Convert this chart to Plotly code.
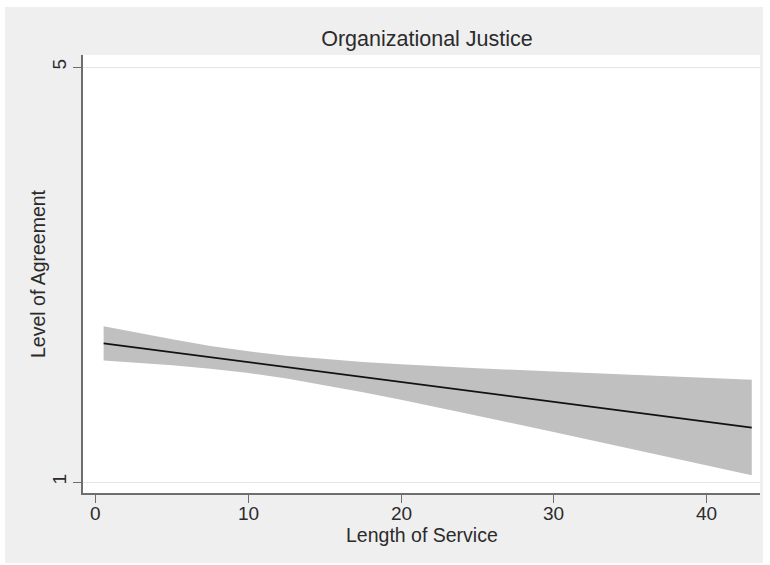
import plotly.graph_objects as go

# Fitted level of agreement by length of service, with 95% confidence band
service_years = [0.5, 2.5, 5, 7.5, 10, 12.5, 15, 17.5, 20, 22.5, 25, 30, 35, 40, 43]
fitted = [2.336, 2.298, 2.250, 2.202, 2.155, 2.107, 2.059, 2.011, 1.964, 1.916,
          1.868, 1.773, 1.677, 1.582, 1.525]
ci_upper = [2.502, 2.444, 2.375, 2.312, 2.260, 2.217, 2.184, 2.157, 2.135, 2.115,
            2.097, 2.064, 2.032, 2.002, 1.985]
ci_lower = [2.170, 2.152, 2.125, 2.092, 2.050, 1.997, 1.934, 1.865, 1.793, 1.717,
            1.639, 1.482, 1.322, 1.162, 1.065]

x_ticks = [0, 10, 20, 30, 40]
y_ticks = [1, 5]

W, H = 770, 565
L, R, T, B = 83, 10, 55, 72
pw, ph = W - L - R, H - T - B

FONT = "Liberation Sans, Arial, Helvetica, sans-serif"
TXT = "#2b2b2b"
AX = "#6e6e6e"

fig = go.Figure()

# confidence band
fig.add_trace(go.Scatter(
    x=service_years + service_years[::-1],
    y=ci_upper + ci_lower[::-1],
    fill="toself", fillcolor="#c0c0c0",
    line=dict(width=0), mode="lines", hoverinfo="skip", showlegend=False,
))
# fitted line
fig.add_trace(go.Scatter(
    x=service_years, y=fitted, mode="lines",
    line=dict(color="#111111", width=1.7), showlegend=False,
))

def px_x(p):
    return (p - L) / pw

def px_y(p):
    return (H - B - p) / ph

shapes = [
    # outer light-grey graph region
    dict(type="rect", xref="paper", yref="paper", layer="below",
         x0=px_x(5), x1=px_x(763), y0=px_y(563), y1=px_y(7),
         fillcolor="#efefef", line=dict(width=0)),
    # white plot region
    dict(type="rect", xref="paper", yref="paper", layer="below",
         x0=0, x1=px_x(760), y0=0, y1=1,
         fillcolor="#ffffff", line=dict(width=0)),
]

annotations = [
    dict(text="Length of Service", xref="paper", yref="paper",
         x=0.5, y=px_y(535), xanchor="center", yanchor="middle",
         showarrow=False, font=dict(family=FONT, size=19.5, color=TXT)),
    dict(text="Level of Agreement", xref="paper", yref="paper",
         x=px_x(38), y=px_y(274), xanchor="center", yanchor="middle",
         textangle=-90, showarrow=False, font=dict(family=FONT, size=19.5, color=TXT)),
]
# x tick labels, placed just under the tick marks
for v in x_ticks:
    annotations.append(dict(
        text=str(v), xref="x", yref="paper", x=v, y=px_y(513),
        xanchor="center", yanchor="middle", showarrow=False,
        font=dict(family=FONT, size=19, color=TXT)))

fig.update_layout(
    width=W, height=H,
    margin=dict(l=L, r=R, t=T, b=B),
    paper_bgcolor="#ffffff", plot_bgcolor="rgba(0,0,0,0)",
    title=dict(text="Organizational Justice", x=427 / W,
               xanchor="center", y=1 - 38 / H, yanchor="middle", yref="container",
               font=dict(family=FONT, size=21.5, color=TXT)),
    shapes=shapes, annotations=annotations,
    font=dict(family=FONT, color=TXT),
)

fig.update_xaxes(
    range=[-0.852, 43.54], tickvals=x_ticks, ticks="outside", ticklen=8,
    tickcolor=AX, tickwidth=1.2, showline=True, linecolor=AX, linewidth=1.5,
    showgrid=False, zeroline=False, showticklabels=False,
)
fig.update_yaxes(
    range=[0.894, 5.116], tickvals=y_ticks, ticks="outside", ticklen=8,
    tickcolor=AX, tickwidth=1.2, showline=True, linecolor=AX, linewidth=1.5,
    showgrid=True, gridcolor="#e6e6e6", gridwidth=1.2, zeroline=False,
    tickangle=-90, tickfont=dict(family=FONT, size=19, color=TXT),
)

fig.write_html("out.html")
